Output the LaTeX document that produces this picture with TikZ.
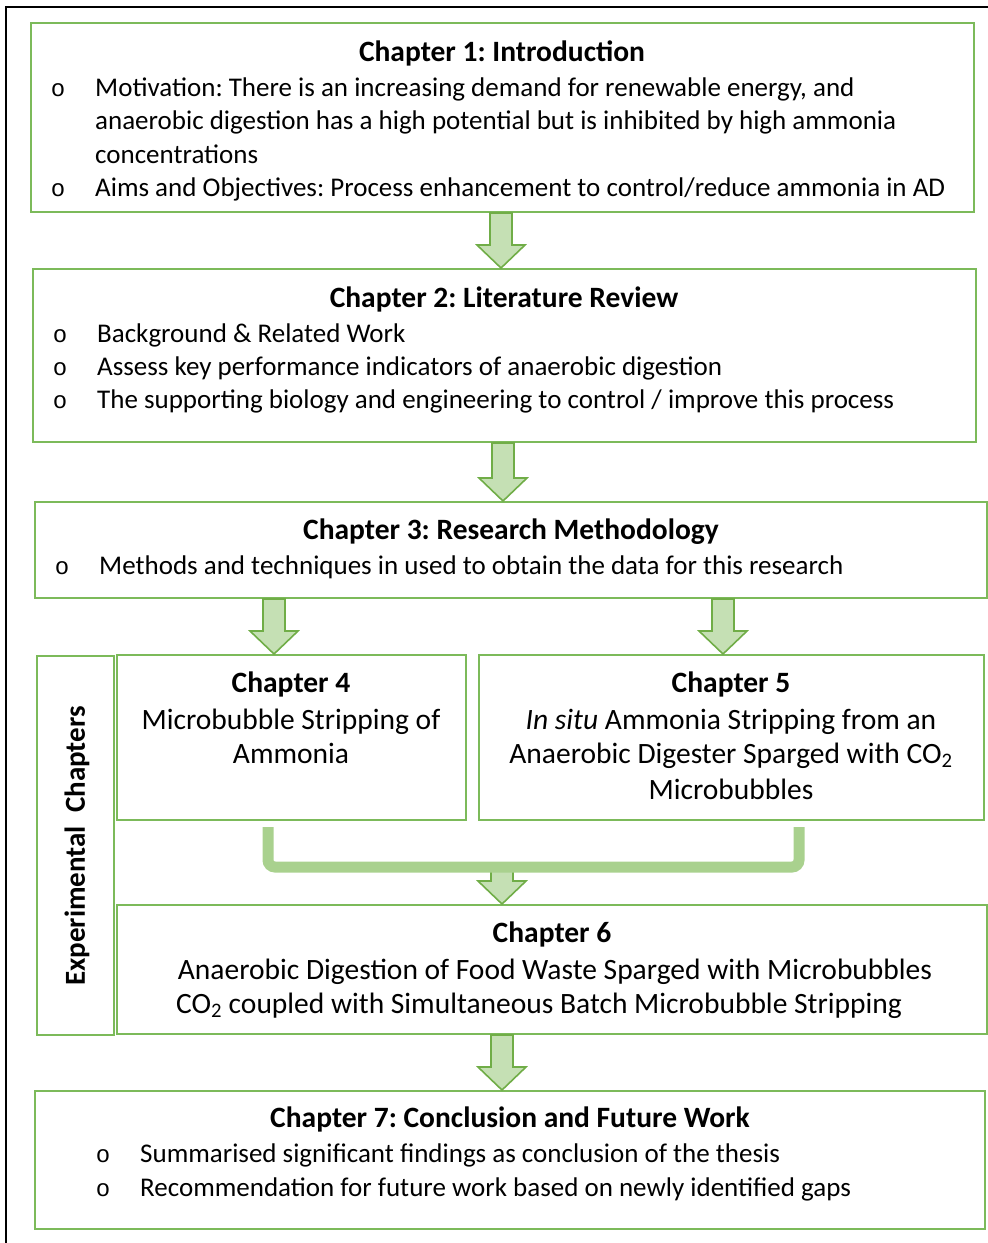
\documentclass[tikz,border=0pt]{standalone}
\usepackage{fontspec}
\setmainfont{Carlito}
\newfontfamily\bulletfont{Liberation Mono}
\usetikzlibrary{calc}
\definecolor{boxgreen}{HTML}{7CBA5A}
\definecolor{arrfill}{HTML}{C5E0B4}
\definecolor{arrline}{HTML}{70AD47}
\definecolor{brkgreen}{HTML}{A9D18E}
\frenchspacing
\tikzset{
  chbox/.style={draw=boxgreen, line width=2pt, fill=white, inner sep=0pt},
  txt/.style={anchor=base west, inner sep=0pt, font=\fontsize{27}{33}\selectfont},
  ctxt/.style={anchor=base, inner sep=0pt, font=\fontsize{29.5}{35}\selectfont},
  ttl/.style={anchor=base, inner sep=0pt, font=\fontsize{29.5}{35}\selectfont\bfseries},
  bul/.style={anchor=base, inner sep=0pt, font=\bulletfont\fontsize{24}{28}\selectfont},
  arrst/.style={draw=arrline, fill=arrfill, line width=1.6pt, line join=miter},
  brkst/.style={draw=brkgreen, line width=11pt, rounded corners=7pt, line cap=butt},
  frame/.style={draw=black, line width=2pt}
}
\newcommand\blockarr[3]{%
  \draw[arrst] let \p1=#2, \p2=#3 in
    (#1pt-11pt,\y1) -- (#1pt+11pt,\y1) -- (#1pt+11pt,\y2+23pt) -- (#1pt+24pt,\y2+23pt)
    -- (#1pt,\y2) -- (#1pt-24pt,\y2+23pt) -- (#1pt-11pt,\y2+23pt) -- cycle;}
\begin{document}
\begin{tikzpicture}[x=1pt,y=-1pt]
\useasboundingbox (0,0) rectangle (988,1243);
\draw[frame] (6,1243) -- (6,7) -- (988,7);

% boxes
\node[chbox, minimum width=943pt, minimum height=189pt] (c1) at (502.5,117.5) {};
\node[chbox, minimum width=943pt, minimum height=173pt] (c2) at (504.5,355.5) {};
\node[chbox, minimum width=952pt, minimum height=96pt] (c3) at (511,550) {};
\node[chbox, minimum width=77pt, minimum height=379pt] (ex) at (75.5,845.5) {};
\node[chbox, minimum width=349pt, minimum height=165pt] (c4) at (291.5,737.5) {};
\node[chbox, minimum width=505pt, minimum height=165pt] (c5) at (731.5,737.5) {};
\node[chbox, minimum width=870pt, minimum height=129pt] (c6) at (552,969.5) {};
\node[chbox, minimum width=950pt, minimum height=138pt] (c7) at (510,1160) {};

% Chapter 1
\node[ttl] (t1) at (502,61) {Chapter 1: Introduction};
\node[bul] (b1a) at (58,96) {o};
\node[txt] (t1a) at (95,96) {Motivation: There is an increasing demand for renewable energy, and};
\node[txt] (t1b) at (95,129) {anaerobic digestion has a high potential but is inhibited by high ammonia};
\node[txt] (t1c) at (95,163) {concentrations};
\node[bul] (b1b) at (58,196) {o};
\node[txt] (t1d) at (95,196) {Aims and Objectives: Process enhancement to control/reduce ammonia in AD};

% Chapter 2
\node[ttl] (t2) at (504,307) {Chapter 2: Literature Review};
\node[bul] (b2a) at (60,342) {o};
\node[txt] (t2a) at (97,342) {Background \& Related Work};
\node[bul] (b2b) at (60,375) {o};
\node[txt] (t2b) at (97,375) {Assess key performance indicators of anaerobic digestion};
\node[bul] (b2c) at (60,408) {o};
\node[txt] (t2c) at (97,408) {The supporting biology and engineering to control / improve this process};

% Chapter 3
\node[ttl] (t3) at (511,539) {Chapter 3: Research Methodology};
\node[bul] (b3a) at (62,574) {o};
\node[txt] (t3a) at (99,574) {Methods and techniques in used to obtain the data for this research};

% Experimental chapters label
\node[rotate=90, inner sep=0pt, font=\fontsize{29}{34}\selectfont\bfseries] (exl) at (77,846) {Experimental\ \ Chapters};

% Chapter 4
\node[ttl] (t4) at (291,692) {Chapter 4};
\node[ctxt] (t4a) at (291,729) {Microbubble Stripping of};
\node[ctxt] (t4b) at (291,763) {Ammonia};

% Chapter 5
\node[ttl] (t5) at (731,692) {Chapter 5};
\node[ctxt] (t5a) at (731,729) {\textit{In situ} Ammonia Stripping from an};
\node[ctxt] (t5b) at (731,763) {Anaerobic Digester Sparged with CO\textsubscript{2}};
\node[ctxt] (t5c) at (731,799) {Microbubbles};

% Chapter 6
\node[ttl] (t6) at (552,942) {Chapter 6};
\node[ctxt] (t6a) at (555,979) {Anaerobic Digestion of Food Waste Sparged with Microbubbles};
\node[ctxt] (t6b) at (539,1013) {CO\textsubscript{2} coupled with Simultaneous Batch Microbubble Stripping};

% Chapter 7
\node[ttl] (t7) at (510,1127) {Chapter 7: Conclusion and Future Work};
\node[bul] (b7a) at (103,1162) {o};
\node[txt] (t7a) at (140,1162) {Summarised significant findings as conclusion of the thesis};
\node[bul] (b7b) at (103,1196) {o};
\node[txt] (t7b) at (140,1196) {Recommendation for future work based on newly identified gaps};

% block arrows
\blockarr{501}{(c1.south)}{(c2.north)}
\blockarr{503}{(c2.south)}{(c3.north)}
\blockarr{274}{(c3.south)}{(c4.north)}
\blockarr{723}{(c3.south)}{(c5.north)}
\coordinate (bl) at (268,827);
\coordinate (br) at (799,827);
\coordinate (bm) at (502,867);
\blockarr{502}{(bm)}{(c6.north)}
\draw[brkst] (bl) -- (bl |- bm) -- (br |- bm) -- (br);
\blockarr{502}{(c6.south)}{(c7.north)}
\end{tikzpicture}
\end{document}
